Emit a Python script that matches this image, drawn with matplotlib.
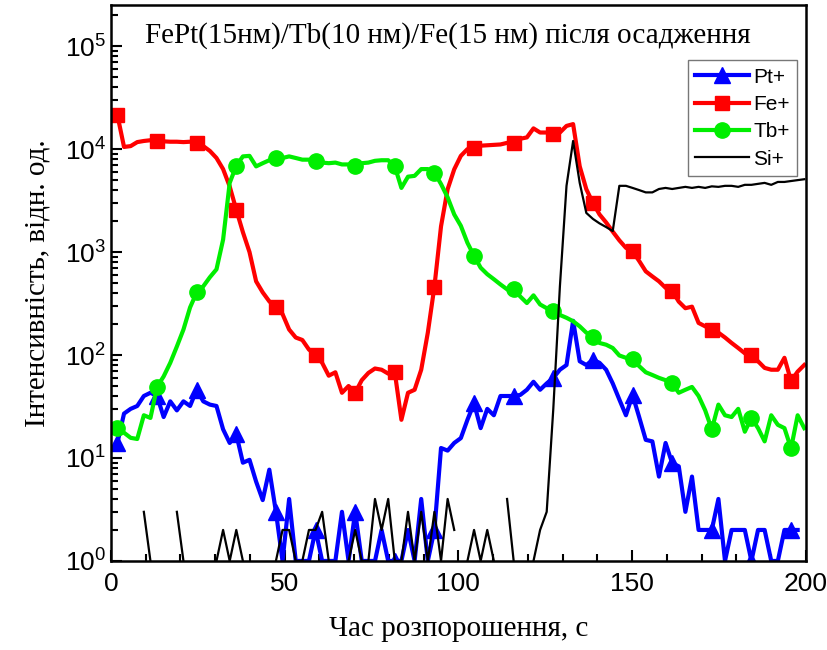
import matplotlib
matplotlib.use('Agg')
import matplotlib.pyplot as plt
from matplotlib.ticker import MultipleLocator, LogLocator, NullFormatter
import numpy as np

# sputtering time: one point every 1.9 s
step = 1.9
n_points = 105

pt = [14, 27, 30, 32, 40, 43, 40, 25, 35.5, 29, 35.5, 32, 46, 35.5, 33, 32, 19, 14, 17, 9,
      9.6, 5.9, 3.9, 7.7, 3, 1, 4, 1, 1, 1, 2, 1, 1, 1, 3, 1, 3, 1, 1, 1,
      2, 1, 1, 1, 2, 1, 4, 1, 2, 12.5, 11.8, 14, 15.6, 23.5, 34, 19.5, 30, 26, 40, 40,
      40, 41, 46, 55, 46, 53, 60, 72, 80, 215, 87, 80, 90, 84, 72, 53, 37, 26, 41, 25,
      15, 14.5, 6.6, 14, 8.9, 8.3, 3, 6.6, 2, 2, 2, 4, 1, 2, 2, 2, 1, 2, 2, 1,
      1, 2, 2, 2, 0]

fe = [21400, 10500, 10700, 11700, 12000, 12200, 12000, 11900, 11800, 11800, 11700, 11800, 11400, 10700, 9600,
      8200, 6400, 4340, 2570, 1560, 1000, 520, 406, 332, 290, 250, 177, 148, 140, 113,
      101, 84, 63, 68, 43, 50, 43, 57, 67, 74, 72, 66, 68, 23.5, 43,
      46, 72, 165, 463, 1780, 4080, 6370, 8600, 10000, 10200, 10800, 10900, 11000, 11100, 11500,
      11400, 12600, 13000, 15900, 14500, 14500, 14100, 14500, 16800, 17500, 6800, 4080, 3000, 2320, 1940,
      1580, 1300, 1100, 1020, 820, 650, 580, 520, 450, 420, 330, 285, 295, 205, 190,
      177, 165, 148, 131, 117, 104, 99, 87, 75, 72, 72, 94, 56, 69, 80]

tb = [19.7, 17.6, 15.7, 15.3, 26, 24.5, 49, 62, 84, 121, 177, 290, 405, 465, 570,
      680, 1320, 4700, 6900, 8500, 8600, 6800, 7300, 7800, 8200, 8200, 8500, 8200, 7900, 7900,
      7700, 7400, 7300, 7400, 7100, 7100, 6900, 7300, 7400, 7700, 7800, 7800, 6800, 4200, 5400,
      5500, 6400, 6400, 5900, 4580, 3400, 2320, 1800, 1230, 920, 705, 610, 545, 485, 435,
      435, 370, 320, 380, 310, 285, 270, 245, 230, 213, 190, 165, 150, 131, 126,
      117, 99, 94, 91, 78, 68, 64, 60, 57, 53, 43, 46, 49, 40, 29,
      19, 33, 26, 25, 30, 18, 24.5, 19.5, 14.5, 26, 21, 19.5, 12.4, 26, 19.5]

si = [0, 0, 0, 0, 3, 1, 0, 0, 0, 3, 1, 0, 0, 0, 0, 1, 2, 1, 2, 1,
      0, 0, 0, 0, 1, 2, 2, 1, 1, 2, 2, 3, 1, 0, 0, 1, 2, 1, 1, 4,
      2, 4, 1, 1, 3, 1, 3, 1, 3, 1, 4, 2, 0, 1, 2, 1, 2, 1, 0, 4,
      1, 0, 0, 1, 2, 3, 30, 465, 4400, 12000, 4700, 2400, 2100, 1900, 1750, 1600, 4400, 4400, 4200, 4000,
      3800, 3800, 4100, 4200, 4100, 4200, 4300, 4200, 4300, 4200, 4350, 4300, 4400, 4400, 4300, 4500, 4500, 4600, 4700, 4500,
      4800, 4800, 4900, 5000, 5100]

t = step * np.arange(1, n_points + 1)


def counts(v):
    # zero counts cannot be shown on the log axis -> gaps
    v = np.array(v, dtype=float)
    return np.where(v > 0, v, np.nan)


plt.rcParams['font.family'] = ['Liberation Sans', 'DejaVu Sans']
serif = ['Liberation Serif', 'DejaVu Serif']

fig = plt.figure(figsize=(8.27, 6.5), dpi=100)
ax = fig.add_axes([0.134, 0.137, 0.8406, 0.855])

ax.plot(t, counts(pt), color='#0000ff', lw=3, marker='^', ms=11, markevery=6, label='Pt+')
ax.plot(t, counts(fe), color='#ff0000', lw=3, marker='s', ms=10, markevery=6, label='Fe+')
ax.plot(t, counts(tb), color='#00ee00', lw=3, marker='o', ms=11, markevery=6, label='Tb+')
ax.plot(t, counts(si), color='black', lw=1.6, label='Si+')

ax.set_yscale('log')
ax.set_xlim(0, 200)
ax.set_ylim(1, 2.5e5)
ax.xaxis.set_major_locator(MultipleLocator(50))
ax.xaxis.set_minor_locator(MultipleLocator(10))
ax.yaxis.set_major_locator(LogLocator(base=10, numticks=10))
ax.yaxis.set_minor_locator(LogLocator(base=10, subs=np.arange(2, 10), numticks=20))
ax.yaxis.set_minor_formatter(NullFormatter())

ax.tick_params(which='both', direction='in', width=1.5, labelsize=19)
ax.tick_params(which='major', length=8)
ax.tick_params(which='minor', length=5)
ax.tick_params(axis='x', pad=8)
for s in ax.spines.values():
    s.set_linewidth(1.8)

ax.set_xlabel('Час розпорошення, с', fontsize=21, family=serif, labelpad=14)
ax.set_ylabel('Інтенсивність, відн. од.', fontsize=21, family=serif, labelpad=10)

ax.text(0.049, 0.945, 'FePt(15нм)/Tb(10 нм)/Fe(15 нм) після осадження',
        transform=ax.transAxes, fontsize=21, family=serif, va='center', ha='left')

leg = ax.legend(loc='upper right', bbox_to_anchor=(0.987, 0.901), borderaxespad=0,
                fontsize=15, handlelength=2.6, handletextpad=0.2, labelspacing=0.4,
                borderpad=0.35, fancybox=False, framealpha=1, edgecolor='#777777')
leg.get_frame().set_linewidth(1.0)

plt.savefig('out.png', dpi=100)
